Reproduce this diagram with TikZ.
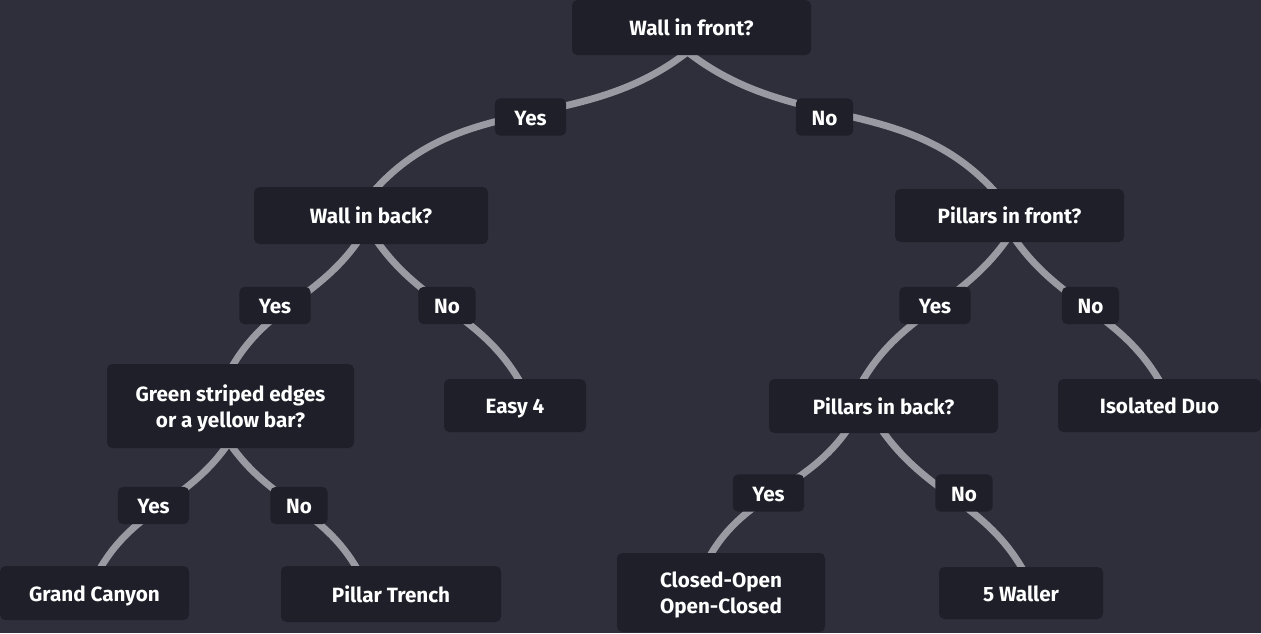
\documentclass[tikz,border=0pt]{standalone}
\usepackage{fontspec}
\setmainfont{Fira Sans}
\usetikzlibrary{calc,backgrounds}
\definecolor{bgc}{HTML}{2E2F3B}
\definecolor{boxc}{HTML}{1F1F29}
\definecolor{linkc}{HTML}{9A9AA2}
\tikzset{
  box/.style={fill=boxc, rounded corners=4pt, text=white, inner sep=0pt, align=center,
    font=\fontsize{15.5}{19.5}\selectfont\bfseries, text height=13pt, text depth=0.6pt},
  twoline/.style={text height=35.8pt, text depth=4pt},
  yesbox/.style={box, minimum width=53.5pt, minimum height=28pt},
  nobox/.style={box, minimum width=43pt, minimum height=28pt},
  link/.style={draw=linkc, line width=5.2pt}
}
\begin{document}
\begin{tikzpicture}[x=0.75pt,y=0.75pt]
\useasboundingbox (0,0) rectangle (1261,-633);
% nodes
\node[box, minimum width=179.25pt, minimum height=41.25pt] (wif) at (691.5,-27.5) {Wall in front?};
\node[yesbox] (y1) at (530.5,-117) {Yes};
\node[nobox] (n1) at (824.5,-117) {No};
\node[box, minimum width=175.5pt, minimum height=42.75pt] (wib) at (371,-215.5) {Wall in back?};
\node[box, minimum width=171.75pt, minimum height=39.75pt] (pif) at (1009.5,-215.5) {Pillars in front?};
\node[yesbox] (y2) at (275,-305.5) {Yes};
\node[nobox] (n2) at (447,-305.5) {No};
\node[yesbox] (y5) at (935,-305.5) {Yes};
\node[nobox] (n5) at (1090.5,-305.5) {No};
\node[box, twoline, minimum width=185.25pt, minimum height=63pt] (grn) at (230.5,-406) {Green striped edges\\or a yellow bar?};
\node[box, minimum width=106.5pt, minimum height=39.75pt] (e4) at (515,-405.5) {Easy 4};
\node[box, minimum width=171.75pt, minimum height=40.5pt] (pib) at (883.5,-406) {Pillars in back?};
\node[box, minimum width=152.25pt, minimum height=39.75pt] (iso) at (1159.5,-405.5) {Isolated Duo};
\node[yesbox] (y3) at (153.5,-505.5) {Yes};
\node[nobox] (n3) at (299,-505.5) {No};
\node[yesbox] (y4) at (768.5,-493) {Yes};
\node[nobox] (n4) at (964,-493) {No};
\node[box, minimum width=141.75pt, minimum height=40.5pt] (gc) at (94.5,-593) {Grand Canyon};
\node[box, minimum width=165pt, minimum height=42pt] (pt) at (391,-594) {Pillar Trench};
\node[box, twoline, minimum width=156pt, minimum height=59.25pt] (co) at (721,-592.5) {Closed-Open\\Open-Closed};
\node[box, minimum width=123pt, minimum height=39pt] (fw) at (1021,-593) {5 Waller};
\begin{pgfonlayer}{background}
\fill[bgc] (0,0) rectangle (1261,-633);
\draw[link] ($(wif.south)+(-4.5,3)$) to[out=218,in=48] ($(wib.north)+(4,-3)$);
\draw[link] ($(wif.south)+(-3.5,3)$) to[out=-38,in=132] ($(pif.north)+(-14.5,-3)$);
\draw[link] ($(wib.south)+(-13,3)$) to[out=235,in=60] ($(grn.north)+(1.5,-3)$);
\draw[link] ($(wib.south)+(6,3)$) to[out=-55,in=120] ($(e4.north)+(5,-3)$);
\draw[link] ($(pif.south)+(-2.5,3)$) to[out=235,in=60] ($(pib.north)+(-21.5,-3)$);
\draw[link] ($(pif.south)+(5.5,3)$) to[out=-55,in=120] ($(iso.north)+(0.5,-3)$);
\draw[link] ($(grn.south)+(-3.5,3)$) to[out=235,in=60] ($(gc.north)+(5.5,-3)$);
\draw[link] ($(grn.south)+(0.5,3)$) to[out=-55,in=120] ($(pt.north)+(-34,-3)$);
\draw[link] ($(pib.south)+(-36.5,3)$) to[out=235,in=60] ($(co.north)+(-11,-3)$);
\draw[link] ($(pib.south)+(-1.5,3)$) to[out=-55,in=120] ($(fw.north)+(2,-3)$);
\end{pgfonlayer}
\end{tikzpicture}
\end{document}
